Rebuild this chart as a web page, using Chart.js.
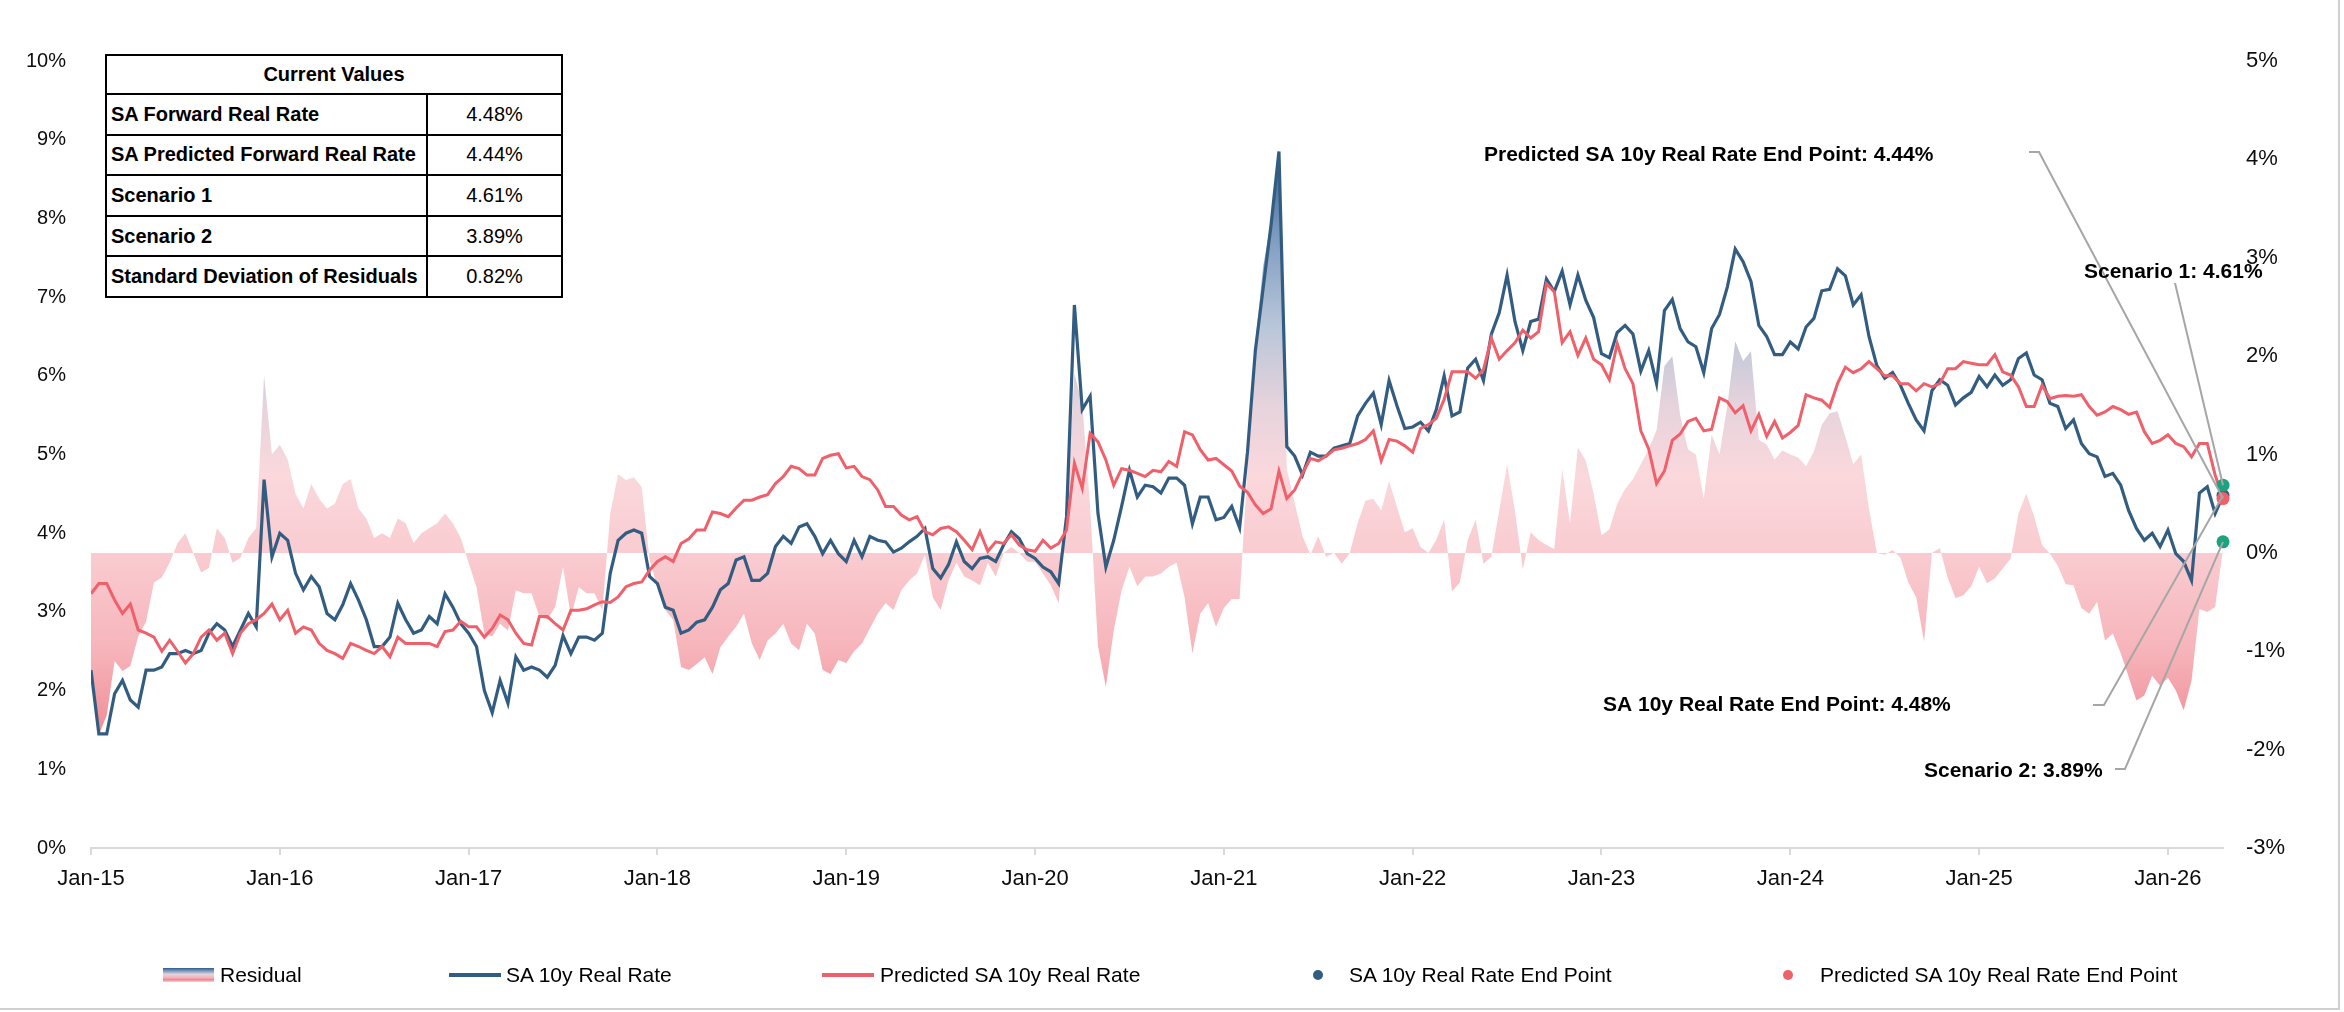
<!DOCTYPE html>
<html>
<head>
<meta charset="utf-8">
<script src="https://cdn.jsdelivr.net/npm/chart.js@4.4.1/dist/chart.umd.min.js"></script>
<style>
  body { margin: 0; background: #fff; }
  #wrap { position: relative; width: 2344px; height: 1012px; font-family: 'Liberation Sans', Arial, sans-serif; color: #000; }
  #frame { position: absolute; left: 0; top: 0; width: 2338px; height: 1008px; border-right: 2px solid #d0d0d0; border-bottom: 2px solid #d0d0d0; pointer-events: none; }
  #values { position: absolute; left: 105px; top: 54px; width: 456px; border-collapse: collapse; font-size: 20px; background: #fff; table-layout: fixed; }
  #values td { border: 2px solid #000; padding: 0 4px; white-space: nowrap; }
  #values tr { height: 40.6px; }
  #values tr.head { height: 39px; }
  #values td.name { font-weight: bold; }
  #values td.val { text-align: center; }
  #values td.title { font-weight: bold; text-align: center; }
  .lg { position: absolute; top: 962px; height: 26px; display: flex; align-items: center; font-size: 21px; white-space: nowrap; }
  .sw-res { width: 51px; height: 14px; margin-right: 6px;
    background: linear-gradient(to bottom, #2f5c88 0%, #7f9dc1 22%, #e6d3dc 45%, #f6b4ba 68%, #ef858f 84%, #fbd3d7 100%); }
  .sw-line { width: 52px; height: 4px; }
  .sw-dot { width: 10px; height: 10px; border-radius: 50%; }
</style>
</head>
<body>
<div id="wrap">
  <canvas id="chart" width="2344" height="1012"></canvas>
  <table id="values">
    <colgroup><col style="width:321px"><col style="width:135px"></colgroup>
    <tbody id="valuesBody"></tbody>
  </table>
  <div class="lg" style="left:163px"><span class="sw-res"></span>Residual</div>
  <div class="lg" style="left:449px"><span class="sw-line" style="background:#335c81;margin-right:5px"></span>SA 10y Real Rate</div>
  <div class="lg" style="left:822px"><span class="sw-line" style="background:#f0606b;margin-right:6px"></span>Predicted SA 10y Real Rate</div>
  <div class="lg" style="left:1313px"><span class="sw-dot" style="background:#335c81;margin-right:26px"></span>SA 10y Real Rate End Point</div>
  <div class="lg" style="left:1783px"><span class="sw-dot" style="background:#f0606b;margin-right:27px"></span>Predicted SA 10y Real Rate End Point</div>
  <div id="frame"></div>
</div>
<script>
// half-monthly observations starting Jan 2015
const startYear = 2015;
const stepsPerYear = 24;

const yearLabels = ['Jan-15', 'Jan-16', 'Jan-17', 'Jan-18', 'Jan-19', 'Jan-20',
  'Jan-21', 'Jan-22', 'Jan-23', 'Jan-24', 'Jan-25', 'Jan-26'];

// SA 10y real rate (%)
const actual = [
  2.26, 1.45, 1.45, 1.96, 2.13, 1.88, 1.79, 2.26, 2.26, 2.3, 2.47, 2.47,
  2.51, 2.47, 2.51, 2.73, 2.85, 2.77, 2.56, 2.77, 2.98, 2.81, 4.68, 3.7,
  4.0, 3.91, 3.49, 3.28, 3.45, 3.32, 2.98, 2.9, 3.09, 3.36, 3.15, 2.9,
  2.56, 2.56, 2.68, 3.11, 2.9, 2.73, 2.77, 2.94, 2.85, 3.23, 3.06, 2.85,
  2.73, 2.56, 2.0, 1.72, 2.13, 1.84, 2.43, 2.26, 2.3, 2.26, 2.17, 2.32,
  2.7, 2.47, 2.68, 2.68, 2.64, 2.73, 3.49, 3.91, 4.0, 4.04, 4.0, 3.45,
  3.36, 3.06, 3.02, 2.73, 2.77, 2.87, 2.9, 3.06, 3.28, 3.36, 3.66, 3.7,
  3.4, 3.4, 3.49, 3.83, 3.96, 3.87, 4.08, 4.12, 3.96, 3.74, 3.91, 3.74,
  3.64, 3.91, 3.7, 3.96, 3.91, 3.89, 3.76, 3.81, 3.89, 3.96, 4.06, 3.55,
  3.43, 3.6, 3.89, 3.64, 3.55, 3.68, 3.7, 3.64, 3.85, 4.02, 3.93, 3.74,
  3.68, 3.57, 3.51, 3.36, 4.21, 6.9, 5.57, 5.74, 4.25, 3.57, 3.91, 4.34,
  4.8, 4.46, 4.61, 4.59, 4.51, 4.7, 4.7, 4.61, 4.12, 4.46, 4.46, 4.17,
  4.2, 4.34, 4.07, 5.03, 6.32, 7.12, 7.92, 8.85, 5.1, 4.98, 4.74, 5.03,
  4.98, 4.98, 5.08, 5.11, 5.14, 5.49, 5.65, 5.78, 5.38, 5.94, 5.62, 5.33,
  5.35, 5.41, 5.3, 5.57, 6.0, 5.49, 5.54, 6.1, 6.21, 5.94, 6.53, 6.8,
  7.28, 6.69, 6.32, 6.69, 6.72, 7.23, 7.07, 7.33, 6.9, 7.28, 6.96, 6.74,
  6.28, 6.23, 6.55, 6.64, 6.53, 6.06, 6.32, 5.9, 6.83, 6.97, 6.6, 6.43,
  6.37, 6.04, 6.6, 6.78, 7.13, 7.61, 7.45, 7.2, 6.64, 6.5, 6.27, 6.27,
  6.43, 6.34, 6.62, 6.73, 7.08, 7.1, 7.36, 7.27, 6.9, 7.03, 6.5, 6.13,
  5.97, 6.04, 5.88, 5.65, 5.44, 5.3, 5.81, 5.95, 5.88, 5.63, 5.72, 5.79,
  5.99, 5.86, 6.01, 5.88, 5.95, 6.22, 6.29, 6.01, 5.95, 5.65, 5.61, 5.33,
  5.44, 5.14, 5.01, 4.97, 4.72, 4.76, 4.61, 4.29, 4.06, 3.91, 4.0, 3.83,
  4.04, 3.74, 3.64, 3.4, 4.51, 4.59, 4.25, 4.48
];

// Predicted SA 10y real rate (%)
const predicted = [
  3.23, 3.36, 3.36, 3.15, 2.98, 3.1, 2.77, 2.73, 2.68, 2.5, 2.64, 2.5,
  2.35, 2.47, 2.68, 2.77, 2.64, 2.73, 2.47, 2.73, 2.85, 2.9, 2.98, 3.1,
  2.9, 3.02, 2.73, 2.81, 2.77, 2.6, 2.51, 2.47, 2.41, 2.6, 2.56, 2.51,
  2.47, 2.56, 2.43, 2.68, 2.6, 2.6, 2.6, 2.6, 2.56, 2.75, 2.77, 2.88,
  2.81, 2.81, 2.68, 2.79, 2.96, 2.9, 2.73, 2.6, 2.58, 2.94, 2.94, 2.85,
  2.77, 3.02, 3.02, 3.04, 3.09, 3.13, 3.12, 3.19, 3.32, 3.36, 3.38, 3.53,
  3.64, 3.7, 3.64, 3.87, 3.93, 4.04, 4.04, 4.27, 4.25, 4.21, 4.32, 4.42,
  4.42, 4.46, 4.49, 4.63, 4.72, 4.85, 4.82, 4.74, 4.74, 4.95, 4.99, 5.01,
  4.83, 4.85, 4.72, 4.68, 4.55, 4.34, 4.34, 4.23, 4.17, 4.21, 4.02, 3.98,
  4.06, 4.08, 4.02, 3.91, 3.79, 4.02, 3.77, 3.89, 3.87, 3.98, 3.85, 3.79,
  3.77, 3.91, 3.81, 3.87, 4.04, 4.89, 4.57, 5.27, 5.16, 4.93, 4.61, 4.82,
  4.8, 4.76, 4.72, 4.8, 4.78, 4.91, 4.85, 5.29, 5.25, 5.06, 4.93, 4.95,
  4.87, 4.79, 4.6, 4.52, 4.36, 4.25, 4.31, 4.79, 4.44, 4.55, 4.76, 4.95,
  4.92, 4.98, 5.06, 5.08, 5.11, 5.14, 5.19, 5.3, 4.92, 5.19, 5.17, 5.11,
  5.03, 5.33, 5.38, 5.46, 5.7, 6.05, 6.05, 6.05, 5.97, 6.08, 6.48, 6.21,
  6.32, 6.42, 6.58, 6.48, 6.56, 7.17, 7.07, 6.42, 6.56, 6.26, 6.48, 6.21,
  6.14, 5.95, 6.41, 6.09, 5.9, 5.3, 5.07, 4.63, 4.79, 5.18, 5.26, 5.42,
  5.46, 5.3, 5.32, 5.72, 5.67, 5.53, 5.62, 5.3, 5.51, 5.23, 5.42, 5.21,
  5.28, 5.37, 5.76, 5.72, 5.69, 5.6, 5.9, 6.11, 6.04, 6.09, 6.18, 6.09,
  6.0, 6.0, 5.9, 5.9, 5.81, 5.9, 5.86, 5.9, 6.09, 6.09, 6.18, 6.16,
  6.14, 6.14, 6.27, 6.05, 6.01, 5.86, 5.61, 5.61, 5.88, 5.71, 5.74, 5.75,
  5.74, 5.76, 5.61, 5.5, 5.54, 5.61, 5.57, 5.51, 5.54, 5.29, 5.14, 5.18,
  5.25, 5.14, 5.1, 4.97, 5.14, 5.14, 4.74, 4.44
];

// Residual (%), right axis
const residual = [
  -1.2, -1.85, -1.65, -1.1, -1.2, -1.15, -0.85, -0.7, -0.3, -0.25, -0.1, 0.1,
  0.2, 0.0, -0.2, -0.15, 0.25, 0.15, -0.1, -0.05, 0.15, 0.25, 1.8, 1.0,
  1.1, 0.95, 0.6, 0.45, 0.7, 0.55, 0.45, 0.5, 0.7, 0.75, 0.45, 0.35,
  0.15, 0.2, 0.15, 0.35, 0.3, 0.1, 0.2, 0.25, 0.3, 0.4, 0.3, 0.15,
  -0.1, -0.35, -0.82, -0.85, -0.72, -0.79, -0.38, -0.41, -0.41, -0.65, -0.68, -0.55,
  -0.14, -0.65, -0.35, -0.41, -0.41, -0.58, 0.4, 0.8, 0.74, 0.77, 0.67, -0.07,
  -0.35, -0.58, -0.68, -1.16, -1.19, -1.13, -1.06, -1.23, -0.96, -0.85, -0.75, -0.62,
  -0.92, -1.09, -0.89, -0.82, -0.72, -0.92, -0.99, -0.72, -0.82, -1.19, -1.23, -1.09,
  -1.12, -1.0, -0.92, -0.77, -0.62, -0.51, -0.58, -0.38, -0.28, -0.21, -0.02, -0.45,
  -0.58, -0.28, -0.1, -0.24, -0.28, -0.33, -0.1, -0.24, 0.0, 0.06, 0.0, -0.09,
  -0.09, -0.21, -0.33, -0.51, 0.4, 1.82, 1.52, 0.47, -0.95, -1.36, -0.79, -0.38,
  -0.14, -0.34, -0.24, -0.24, -0.21, -0.14, -0.1, -0.45, -1.02, -0.62, -0.51, -0.75,
  -0.56, -0.47, -0.47, 0.85, 2.14, 2.91, 3.38, 4.05, 0.85, 0.51, 0.17, -0.02,
  0.17, -0.04, 0.0, -0.11, 0.0, 0.3, 0.53, 0.55, 0.43, 0.73, 0.47, 0.21,
  0.25, 0.06, 0.0, 0.13, 0.34, -0.39, -0.3, 0.13, 0.34, -0.11, -0.04, 0.43,
  0.9, 0.43, -0.17, 0.21, 0.13, 0.08, 0.04, 0.85, 0.3, 1.07, 0.94, 0.6,
  0.18, 0.24, 0.5, 0.65, 0.75, 0.9, 1.05, 1.25, 1.9, 2.0, 1.4, 1.05,
  1.0, 0.55, 1.2, 1.0, 1.5, 2.15, 1.95, 2.05, 1.15, 1.1, 0.95, 1.04,
  1.0, 0.97, 0.88, 1.03, 1.3, 1.42, 1.44, 1.18, 0.9, 1.0, 0.45, 0.0,
  -0.02, 0.03, -0.05, -0.3, -0.45, -0.9, 0.0, 0.05, -0.25, -0.46, -0.43, -0.34,
  -0.14, -0.31, -0.26, -0.16, -0.06, 0.4, 0.6, 0.37, 0.08, -0.01, -0.13, -0.32,
  -0.33, -0.56, -0.62, -0.5, -0.89, -0.82, -1.02, -1.26, -1.5, -1.45, -1.25, -1.35,
  -1.27, -1.4, -1.6, -1.3, -0.57, -0.6, -0.55, 0.04
];

// current values table
const actualEnd = 4.48;
const predictedEnd = 4.44;
const scenario1 = 4.61;
const scenario2 = 3.89;
const residualStd = 0.82;

const BLUE = '#335c81';
const RED = '#f0606b';
const GREEN = '#1ba380';
const FONT = "'Liberation Sans', Arial, sans-serif";

const pct = v => v.toFixed(2) + '%';
const dates = actual.map((_, i) => startYear + i / stepsPerYear);
const lastDate = dates[dates.length - 1];

//Таблица текущих значений
const tableRows = [
  ['SA Forward Real Rate', actualEnd],
  ['SA Predicted Forward Real Rate', predictedEnd],
  ['Scenario 1', scenario1],
  ['Scenario 2', scenario2],
  ['Standard Deviation of Residuals', residualStd]
];
const tbody = document.getElementById('valuesBody');
tbody.innerHTML = '<tr class="head"><td class="title" colspan="2">Current Values</td></tr>' +
  tableRows.map(r => `<tr><td class="name">${r[0]}</td><td class="val">${pct(r[1])}</td></tr>`).join('');

//Градиент для остатков
const residualStops = [
  [5, '#2a5683'], [4.1, '#2f5c88'], [3.2, '#7f9dc1'], [2.3, '#b9c6d9'], [1.5, '#e6d3dc'],
  [0.8, '#fad8dc'], [0, '#f9ccd1'], [-1, '#f6b4ba'], [-2, '#ef858f'], [-3, '#ec7a85']
];
function residualFill(chart) {
  const {ctx, chartArea, scales} = chart;
  if (!chartArea || !scales.y1) return '#f9ccd1';
  const axis = scales.y1;
  const g = ctx.createLinearGradient(0, axis.getPixelForValue(axis.max), 0, axis.getPixelForValue(axis.min));
  residualStops.forEach(([v, c]) => g.addColorStop((axis.max - v) / (axis.max - axis.min), c));
  return g;
}

//Подписи конечных точек
const callouts = [
  { text: 'Predicted SA 10y Real Rate End Point: ' + pct(predictedEnd), x: 1484, y: 155, path: [[2029, 152], [2039, 152]], value: predictedEnd },
  { text: 'Scenario 1: ' + pct(scenario1), x: 2084, y: 272, path: [[2175, 283]], value: scenario1 },
  { text: 'SA 10y Real Rate End Point: ' + pct(actualEnd), x: 1603, y: 705, path: [[2093, 705], [2104, 705]], value: actualEnd },
  { text: 'Scenario 2: ' + pct(scenario2), x: 1924, y: 771, path: [[2115, 769], [2125, 769]], value: scenario2 }
];
const calloutPlugin = {
  id: 'callouts',
  afterDatasetsDraw(chart) {
    const {ctx, scales} = chart;
    const px = scales.x.getPixelForValue(lastDate);
    ctx.save();
    ctx.strokeStyle = '#a6a6a6';
    ctx.lineWidth = 2;
    callouts.forEach(c => {
      ctx.beginPath();
      ctx.moveTo(c.path[0][0], c.path[0][1]);
      c.path.slice(1).forEach(p => ctx.lineTo(p[0], p[1]));
      ctx.lineTo(px, scales.y.getPixelForValue(c.value));
      ctx.stroke();
    });
    ctx.fillStyle = '#000';
    ctx.font = 'bold 21px ' + FONT;
    ctx.textBaseline = 'middle';
    ctx.textAlign = 'left';
    callouts.forEach(c => ctx.fillText(c.text, c.x, c.y));
    ctx.restore();
  }
};

const endPoint = (label, value, color, order) => ({
  label,
  data: [{ x: lastDate, y: value }],
  yAxisID: 'y',
  showLine: false,
  pointRadius: 6.5,
  pointBackgroundColor: color,
  pointBorderWidth: 0,
  clip: false,
  order
});

Chart.defaults.font.family = FONT;
Chart.defaults.color = '#0d0d0d';

new Chart(document.getElementById('chart'), {
  type: 'line',
  data: {
    datasets: [
      endPoint('Predicted SA 10y Real Rate End Point', predictedEnd, RED, 0),
      endPoint('SA 10y Real Rate End Point', actualEnd, BLUE, 1),
      endPoint('Scenario 1', scenario1, GREEN, 0),
      endPoint('Scenario 2', scenario2, GREEN, 0),
      {
        label: 'Predicted SA 10y Real Rate',
        data: dates.map((x, i) => ({ x, y: predicted[i] })),
        yAxisID: 'y',
        borderColor: RED,
        borderWidth: 3,
        pointRadius: 0,
        tension: 0,
        order: 2
      },
      {
        label: 'SA 10y Real Rate',
        data: dates.map((x, i) => ({ x, y: actual[i] })),
        yAxisID: 'y',
        borderColor: BLUE,
        borderWidth: 3.2,
        pointRadius: 0,
        tension: 0,
        order: 3
      },
      {
        label: 'Residual',
        data: dates.map((x, i) => ({ x, y: residual[i] })),
        yAxisID: 'y1',
        borderColor: 'rgba(0,0,0,0)',
        borderWidth: 1,
        backgroundColor: c => residualFill(c.chart),
        fill: 'origin',
        pointRadius: 0,
        tension: 0,
        order: 4
      }
    ]
  },
  options: {
    responsive: false,
    devicePixelRatio: 1,
    animation: false,
    events: [],
    layout: { padding: { top: 61, left: 0, right: 0, bottom: 0 } },
    plugins: { legend: { display: false }, tooltip: { enabled: false } },
    scales: {
      x: {
        type: 'linear',
        bounds: 'data',
        min: startYear,
        max: lastDate,
        afterFit: s => { s.height = 164; },
        grid: { drawOnChartArea: false, drawTicks: true, tickLength: 7, color: '#d9d9d9', lineWidth: 2 },
        border: { display: true, color: '#d9d9d9', width: 2 },
        ticks: {
          stepSize: 1,
          includeBounds: false,
          autoSkip: false,
          maxRotation: 0,
          padding: 11,
          font: { size: 22 },
          callback: v => yearLabels[v - startYear] || ''
        }
      },
      y: {
        position: 'left',
        min: 0,
        max: 10,
        afterFit: s => { s.width = 91; },
        grid: { display: false, drawTicks: false },
        border: { display: false },
        ticks: { stepSize: 1, padding: 25, font: { size: 20 }, callback: v => v + '%' }
      },
      y1: {
        position: 'right',
        min: -3,
        max: 5,
        afterFit: s => { s.width = 121; },
        grid: { display: false, drawTicks: false },
        border: { display: false },
        ticks: { stepSize: 1, padding: 23, font: { size: 22 }, callback: v => v + '%' }
      }
    }
  },
  plugins: [calloutPlugin]
});
</script>
</body>
</html>
